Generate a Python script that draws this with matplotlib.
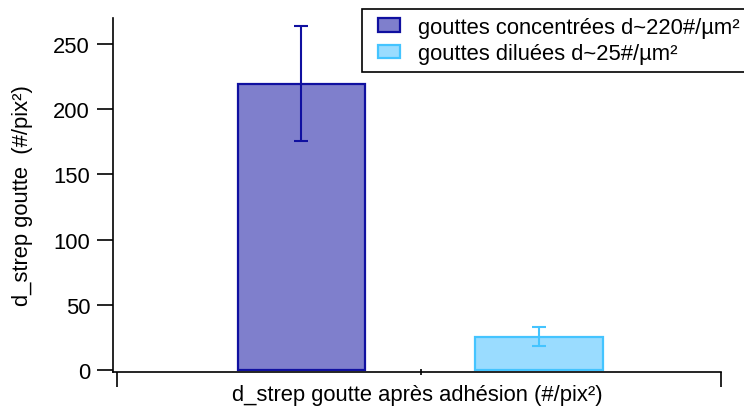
import matplotlib.pyplot as plt
from matplotlib.patches import Patch, Rectangle

plt.rcParams['font.family'] = ['Liberation Sans', 'DejaVu Sans']

# data
series = ['gouttes concentrées d~220#/µm²', 'gouttes diluées d~25#/µm²']
values = [219.5, 25.5]
errors = [44.0, 7.3]
category = 'd_strep goutte après adhésion (#/pix²)'
face_colors = ['#7f7fcc', '#9adcff']
edge_colors = ['#1010a0', '#44c4ff']

fs = 15.8
W, H = 744, 410

fig = plt.figure(figsize=(W / 100, H / 100), dpi=100)
ax = fig.add_axes([113 / W, 37 / H, 608 / W, 354 / H])

# one category, two series side by side
positions = [0.31, 0.7007]
width = 0.209
for i in range(len(series)):
    ax.bar(positions[i], values[i], width=width, color=face_colors[i],
           edgecolor=edge_colors[i], linewidth=1.6, yerr=errors[i],
           error_kw=dict(ecolor=edge_colors[i], elinewidth=1.5, capsize=4.7, capthick=1.5))

ax.set_xlim(0, 1)
ax.set_ylim(-1.5, 270)
ax.set_yticks([0, 50, 100, 150, 200, 250])
ax.tick_params(axis='y', direction='out', length=11.5, width=1.2, labelsize=fs, pad=5)
ax.set_xticks([0.0066, 1.0])
ax.set_xticklabels(['', ''])
ax.tick_params(axis='x', direction='out', length=11, width=1.2)
ax.set_xticks([0.507], minor=True)
ax.tick_params(axis='x', which='minor', direction='inout', length=4, width=1.2)

for s in ['top', 'right']:
    ax.spines[s].set_visible(False)
for s in ['left', 'bottom']:
    ax.spines[s].set_linewidth(1.2)

ax.set_xlabel(category, fontsize=fs, labelpad=-6)
ax.set_ylabel('d_strep goutte  (#/pix²)', fontsize=fs, labelpad=15)

# legend box runs off the right edge, as in the original
fig.patches.append(Rectangle((362 / W, 1 - 73 / H), 400 / W, 63 / H, transform=fig.transFigure,
                             facecolor='white', edgecolor='black', linewidth=1.2, zorder=3))
handles = [Patch(facecolor=face_colors[i], edgecolor=edge_colors[i], linewidth=1.6) for i in range(len(series))]
leg = fig.legend(handles, series, loc='upper left', bbox_to_anchor=(369 / W, 1 - 9 / H),
                 fontsize=fs, frameon=False,
                 handlelength=1.0, handleheight=0.55, handletextpad=0.85, borderpad=0.4,
                 labelspacing=0.25, borderaxespad=0)
leg.set_zorder(4)

fig.savefig('out.png', dpi=100)
